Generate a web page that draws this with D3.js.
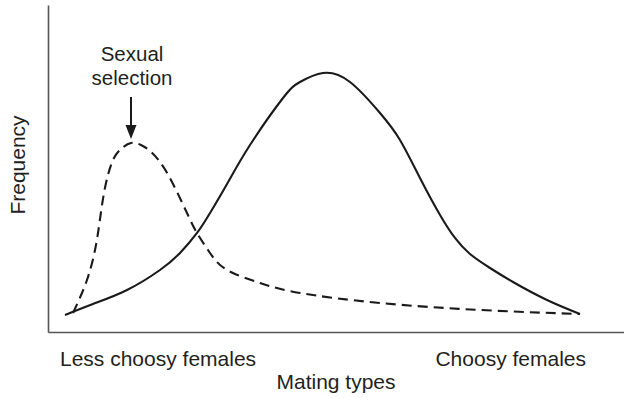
<!DOCTYPE html>
<html>
<head>
<meta charset="utf-8">
<script src="https://cdn.jsdelivr.net/npm/d3@7"></script>
<style>
  html, body { margin: 0; padding: 0; background: #fff; }
  svg { display: block; }
  text { font-family: "Liberation Sans", Arial, Helvetica, sans-serif; fill: #231f20; }
</style>
</head>
<body>
<svg id="chart" width="624" height="398"></svg>
<script>
// Mating type position (0 = less choosy, 100 = choosy) and relative frequency (0–100)
const matingType = [2.95, 7.81, 13.72, 19.44, 22.92, 25.87, 28.13, 31.08, 35.07, 40.80, 43.75, 47.74, 52.43, 57.64, 61.11, 64.58, 68.06, 70.66, 73.26, 76.74, 80.73, 86.63, 92.36];
const baseFrequency = [5.20, 8.56, 12.84, 18.96, 24.16, 30.28, 36.39, 45.26, 57.19, 71.56, 76.45, 79.20, 76.45, 66.97, 58.72, 47.09, 35.78, 28.75, 23.85, 19.57, 15.29, 9.79, 5.50];

const selectedType = [4.34, 6.77, 8.33, 9.20, 10.07, 11.28, 12.67, 14.41, 16.15, 17.71, 19.44, 21.53, 24.13, 25.87, 28.13, 31.08, 36.81, 43.75, 57.64, 75.00, 92.36];
const selectedFrequency = [5.81, 15.90, 26.61, 36.70, 45.57, 52.60, 55.96, 57.80, 57.19, 55.35, 51.99, 45.87, 36.39, 30.28, 24.16, 18.96, 14.98, 11.93, 8.87, 6.73, 5.50];

const axisLabels = { x: "Mating types", y: "Frequency" };
const endLabels = ["Less choosy females", "Choosy females"];
const annotationLines = ["Sexual", "selection"];

const svg = d3.select("#chart");
const plotLeft = 48, plotRight = 624, plotTop = 5, plotBottom = 332;

const x = d3.scaleLinear().domain([0, 100]).range([plotLeft, plotRight]);
const y = d3.scaleLinear().domain([0, 100]).range([plotBottom, plotTop]);

// Axes: plain lines, no ticks
const xAxis = d3.axisBottom(x).tickValues([]).tickSizeOuter(0);
const yAxis = d3.axisLeft(y).tickValues([]).tickSizeOuter(0);
svg.append("g").attr("transform", `translate(0,${plotBottom})`).call(xAxis)
  .select(".domain").attr("stroke", "#555").attr("stroke-width", 1.6);
svg.append("g").attr("transform", `translate(${plotLeft},0)`).call(yAxis)
  .select(".domain").attr("stroke", "#555").attr("stroke-width", 1.6);

const line = d3.line()
  .x(d => x(d[0]))
  .y(d => y(d[1]))
  .curve(d3.curveNatural);

const basePts = matingType.map((t, i) => [t, baseFrequency[i]]);
const selPts = selectedType.map((t, i) => [t, selectedFrequency[i]]);

svg.append("path")
  .attr("d", line(basePts))
  .attr("fill", "none")
  .attr("stroke", "#1a1a1a")
  .attr("stroke-width", 2.1);

svg.append("path")
  .attr("d", line(selPts))
  .attr("fill", "none")
  .attr("stroke", "#1a1a1a")
  .attr("stroke-width", 2.1)
  .attr("stroke-dasharray", "10,6");

// Arrow pointing at the peak of the dashed curve
const peak = selPts.reduce((a, b) => (b[1] > a[1] ? b : a));
const px = x(peak[0]);
const tipY = y(peak[1]) - 4;
svg.append("line")
  .attr("x1", px).attr("x2", px)
  .attr("y1", tipY - 42).attr("y2", tipY - 10)
  .attr("stroke", "#1a1a1a").attr("stroke-width", 2);
svg.append("path")
  .attr("d", `M${px - 5.5},${tipY - 14} L${px + 5.5},${tipY - 14} L${px},${tipY} Z`)
  .attr("fill", "#1a1a1a");

const ann = svg.append("text")
  .attr("text-anchor", "middle")
  .attr("font-size", 20.5);
annotationLines.forEach((s, i) => {
  ann.append("tspan").attr("x", px + 1).attr("y", 61 + i * 24).text(s);
});

// Axis titles and end labels
svg.append("text")
  .attr("x", 60).attr("y", 366)
  .attr("font-size", 21)
  .text(endLabels[0]);
svg.append("text")
  .attr("x", 586).attr("y", 366)
  .attr("text-anchor", "end")
  .attr("font-size", 21)
  .text(endLabels[1]);
svg.append("text")
  .attr("x", 336).attr("y", 389)
  .attr("text-anchor", "middle")
  .attr("font-size", 21)
  .text(axisLabels.x);
svg.append("text")
  .attr("transform", `translate(25,165) rotate(-90)`)
  .attr("text-anchor", "middle")
  .attr("font-size", 21)
  .text(axisLabels.y);
</script>
</body>
</html>
